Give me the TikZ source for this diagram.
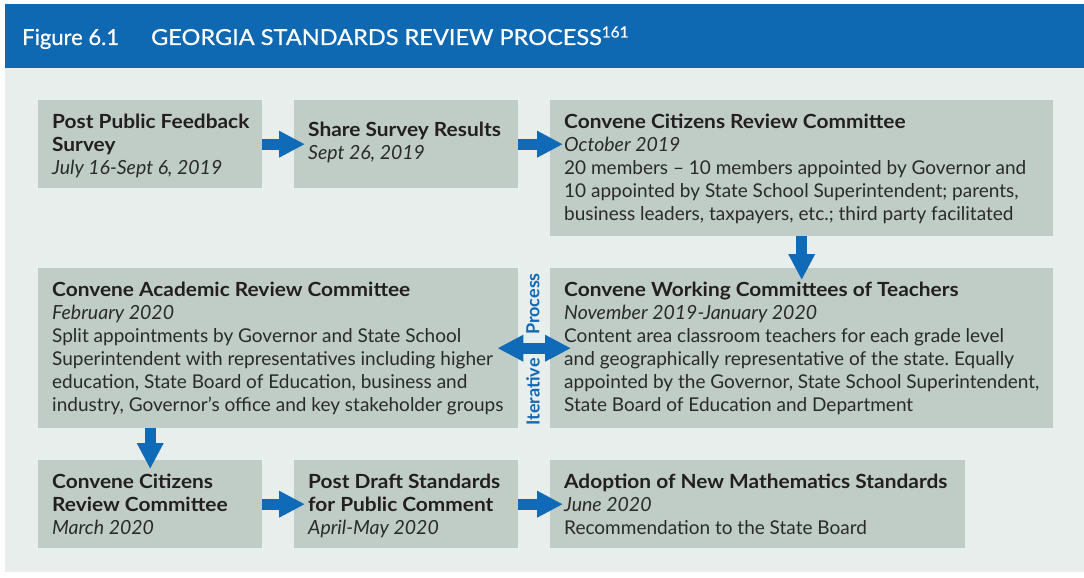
\documentclass[tikz,border=0pt]{standalone}
\usepackage{fontspec}
\setmainfont{Lato}
\newfontfamily\titlefont[FakeBold=0.6]{Lato}
\newfontfamily\titlecaps[FakeBold=0.6,FakeStretch=1.07]{Lato}
\newfontfamily\hdfamily[FakeStretch=1.07]{Lato}
\usetikzlibrary{arrows.meta}
\frenchspacing
\definecolor{titleblue}{HTML}{0F68B2}
\definecolor{arrowblue}{HTML}{0F6AB8}
\definecolor{bgpanel}{HTML}{E8EEEC}
\definecolor{boxfill}{HTML}{C0CDC6}
\definecolor{ink}{HTML}{231F20}
\definecolor{body}{HTML}{2A2A2A}
\tikzset{
  box/.style={fill=boxfill, draw=none, inner sep=0pt, anchor=north west},
  txt/.style={anchor=base west, inner sep=0pt, align=left, text=body,
    font=\fontsize{19}{23}\selectfont},
  flow/.style={line width=11pt, draw=arrowblue,
    -{Triangle[length=26pt,width=25pt,fill=arrowblue]}},
  flowboth/.style={line width=11pt, draw=arrowblue,
    {Triangle[length=26pt,width=25pt,fill=arrowblue]}-{Triangle[length=26pt,width=25pt,fill=arrowblue]}},
  iter/.style={text=arrowblue, inner sep=0pt, rotate=90,
    font=\fontsize{18}{20}\selectfont\bfseries},
}
\newcommand{\hd}[1]{{\hdfamily\fontsize{19.5}{23}\selectfont\bfseries\color{ink}#1}}
\newcommand{\dt}[1]{{\fontsize{19.5}{23}\selectfont\itshape #1}}
\begin{document}
\begin{tikzpicture}[x=1pt, y=-1pt]
\useasboundingbox (0,0) rectangle (1084,578);
\fill[white] (0,0) rectangle (1084,578);
\fill[bgpanel] (5,68) rectangle (1084,572);
\fill[titleblue] (5,4) rectangle (1084,68);
\node[anchor=base west, inner sep=0pt, text=white,
  font=\titlefont\fontsize{22}{26}\selectfont] (title) at (22,45)
  {Figure 6.1\hspace{32pt}{\titlecaps GEORGIA STANDARDS REVIEW PROCESS}\textsuperscript{161}};

% boxes
\node[box, minimum width=224pt, minimum height=88pt] (A) at (38,100) {};
\node[box, minimum width=224pt, minimum height=88pt] (B) at (294,100) {};
\node[box, minimum width=503pt, minimum height=136pt] (C) at (550,100) {};
\node[box, minimum width=480pt, minimum height=160pt] (D) at (38,268) {};
\node[box, minimum width=503pt, minimum height=160pt] (E) at (550,268) {};
\node[box, minimum width=224pt, minimum height=88pt] (G) at (38,460) {};
\node[box, minimum width=224pt, minimum height=88pt] (H) at (294,460) {};
\node[box, minimum width=415pt, minimum height=88pt] (I) at (550,460) {};

% texts (base anchor = baseline of last line)
\node[txt] (At) at ([shift={(14,74)}]A.north west)
  {\hd{Post Public Feedback}\\\hd{Survey}\\\dt{July 16-Sept 6, 2019}};
\node[txt] (Bt) at ([shift={(14,59)}]B.north west)
  {\hd{Share Survey Results}\\\dt{Sept 26, 2019}};
\node[txt] (Ct) at ([shift={(14,120)}]C.north west)
  {\hd{Convene Citizens Review Committee}\\\dt{October 2019}\\
   20 members – 10 members appointed by Governor and\\
   10 appointed by State School Superintendent; parents,\\
   business leaders, taxpayers, etc.; third party facilitated};
\node[txt] (Dt) at ([shift={(14,143)}]D.north west)
  {\hd{Convene Academic Review Committee}\\\dt{February 2020}\\
   Split appointments by Governor and State School\\
   Superintendent with representatives including higher\\
   education, State Board of Education, business and\\
   industry, Governor’s office and key stakeholder groups};
\node[txt] (Et) at ([shift={(14,143)}]E.north west)
  {\hd{Convene Working Committees of Teachers}\\\dt{November 2019-January 2020}\\
   Content area classroom teachers for each grade level\\
   and geographically representative of the state. Equally\\
   appointed by the Governor, State School Superintendent,\\
   State Board of Education and Department};
\node[txt] (Gt) at ([shift={(14,74)}]G.north west)
  {\hd{Convene Citizens}\\\hd{Review Committee}\\\dt{March 2020}};
\node[txt] (Ht) at ([shift={(14,74)}]H.north west)
  {\hd{Post Draft Standards}\\\hd{for Public Comment}\\\dt{April-May 2020}};
\node[txt] (It) at ([shift={(14,74)}]I.north west)
  {\hd{Adoption of New Mathematics Standards}\\\dt{June 2020}\\
   Recommendation to the State Board};

% iterative label
\node[iter] (proc) at (533,304) {Process};
\node[iter] (itr) at (533,392) {Iterative};

% connectors
\draw[flow] (A.east) -- ([xshift=11pt]B.west);
\draw[flow] (B.east) -- ([xshift=13pt]B.east -| C.west);
\draw[flow] (C.south) -- ([yshift=-12pt]E.north);
\draw[flowboth] ([xshift=-21pt]D.east) -- ([xshift=21pt]E.west);
\draw[flow] (G.north |- D.south) -- ([yshift=-9pt]G.north);
\draw[flow] (G.east) -- ([xshift=11pt]H.west);
\draw[flow] (H.east) -- ([xshift=13pt]I.west);
\end{tikzpicture}
\end{document}
